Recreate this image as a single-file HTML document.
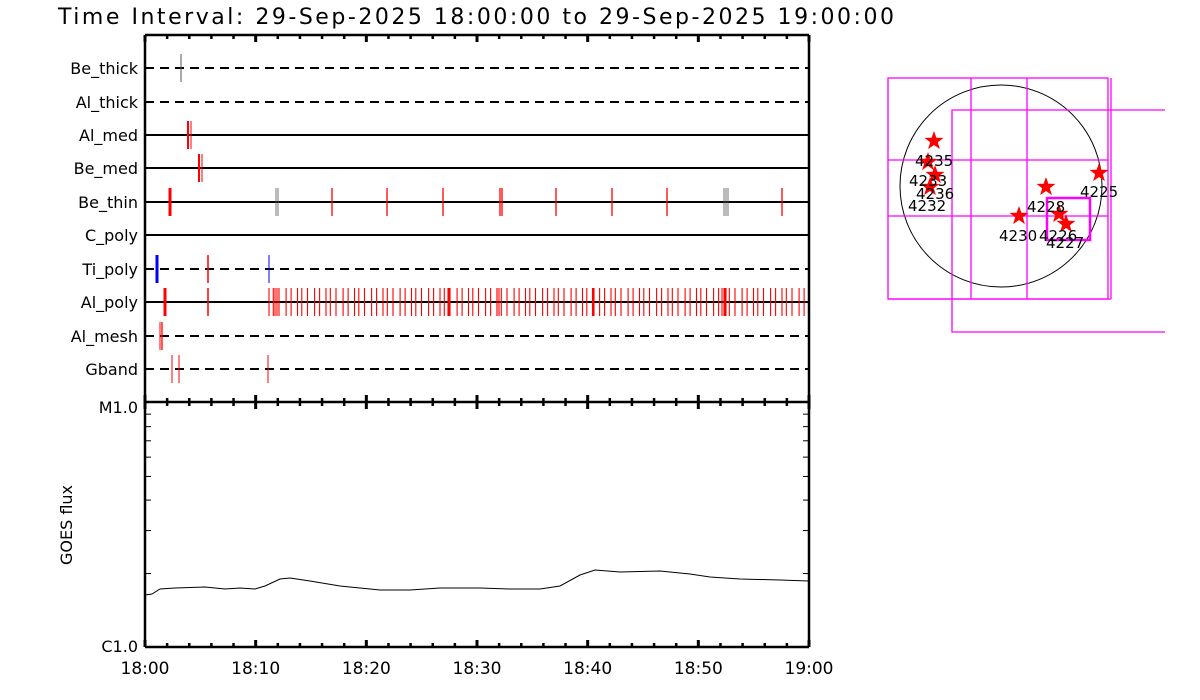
<!DOCTYPE html>
<html><head><meta charset="utf-8"><style>body{margin:0;background:#fff}svg{display:block}text{font-family:"DejaVu Sans","Liberation Sans",sans-serif;fill:#000}</style></head>
<body>
<svg id="s" width="1200" height="700" xmlns="http://www.w3.org/2000/svg">
<text x="58" y="24" font-size="22" textLength="836">Time Interval: 29-Sep-2025 18:00:00 to 29-Sep-2025 19:00:00</text>
<g id="g"></g>
<text transform="translate(72,525) rotate(-90)" font-size="16" text-anchor="middle">GOES flux</text>
<text x="138" y="413" font-size="16" text-anchor="end">M1.0</text>
<text x="138" y="652" font-size="16" text-anchor="end">C1.0</text>
<polyline fill="none" stroke="#000" stroke-width="1" points="145,595 152,594 160,589 175,588 205,587 225,589 240,588 255,589 265,586 280,579 290,578 310,581 340,586 380,590 410,590 440,588 480,588 510,589 540,589 560,586 580,575 595,570 620,572 660,571 690,574 710,577 740,579 780,580 809,581"/>
<g fill="none" stroke="#000">
<circle cx="1001" cy="186" r="101" stroke-width="1"/>
</g>
<g fill="none" stroke="#f0f" stroke-width="1.3">
<rect x="888" y="78" width="220" height="221"/>
<line x1="1111" y1="78" x2="1111" y2="299"/>
<line x1="888" y1="299" x2="1111" y2="299"/>
<line x1="971" y1="78" x2="971" y2="299"/>
<line x1="1027" y1="78" x2="1027" y2="299"/>
<line x1="888" y1="160" x2="1108" y2="160"/>
<line x1="888" y1="216" x2="1108" y2="216"/>
<polyline points="1165,110 952,110 952,332 1165,332"/>
<rect x="1047" y="198" width="43" height="42" stroke-width="2.5"/>
</g>
<g id="st" fill="#f00"></g>
<g font-size="15">
<text x="915" y="166">4235</text>
<text x="909" y="186">4233</text>
<text x="916" y="199">4236</text>
<text x="908" y="211">4232</text>
<text x="1080" y="197">4225</text>
<text x="1027" y="212">4228</text>
<text x="999" y="241">4230</text>
<text x="1039" y="241">4226</text>
<text x="1046" y="248">4227</text>
</g>
</svg>
<script>
var g=document.getElementById('g'),h='';
function L(x1,y1,x2,y2,c,w,d){h+='<line x1="'+x1+'" y1="'+y1+'" x2="'+x2+'" y2="'+y2+'" stroke="'+c+'" stroke-width="'+w+'"'+(d?' stroke-dasharray="'+d+'"':'')+'/>';}
var X0=145,X1=809,pm=(X1-X0)/60;
var rows=[['Be_thick',68,1],['Al_thick',102,1],['Al_med',135,0],['Be_med',168,0],['Be_thin',202,0],['C_poly',235,0],['Ti_poly',269,1],['Al_poly',302,0],['Al_mesh',336,1],['Gband',369,1]];
rows.forEach(function(r){L(X0,r[1],X1,r[1],'#000',2,r[2]?'9,6':'');h+='<text x="138" y="'+(r[1]+6)+'" font-size="16" text-anchor="end">'+r[0]+'</text>';});
function tk(y,x,c,w){L(x,y-14,x,y+14,c,w||1.3);}
var R='#f00',K='#555';
tk(68,181,K,1);
tk(135,188,R,2);tk(135,191,R,1);
tk(168,199,R,2);tk(168,202,R,1);
tk(202,170,R,3);[332,387,443,556,612,667,782].forEach(function(x){tk(202,x,R,1.3)});
tk(202,500,R,1.3);tk(202,502,R,1.3);tk(202,276,K,0.8);tk(202,278,K,0.8);tk(202,724,K,0.8);tk(202,726,K,0.8);tk(202,728,K,0.8);
tk(269,157,'#00f',3);tk(269,208,R,1.5);tk(269,269,'#00f',1);
tk(302,165,R,3);tk(302,208,R,1.5);
var x=269,i=0;while(x<808){tk(302,x.toFixed(1),R,1.1);x+=4.3+((i*37)%5)*0.7;i++;}
[275,277,448,449,593,594,722,724,726,497,499].forEach(function(x){tk(302,x,R,1.1)});
tk(336,160,R,1);tk(336,162,R,1.3);
tk(369,172,R,1);tk(369,179,R,1);tk(369,268,R,1);
L(X0,35,X1,35,'#000',2.5);L(X0,35,X0,647,'#000',2.5);L(X1,35,X1,647,'#000',2.5);L(X0,402,X1,402,'#000',2.5);L(X0,647,X1,647,'#000',2.5);
for(var m=0;m<=60;m+=2){var xx=X0+m*pm,big=m%10==0,l=big?7:4;
L(xx,35,xx,35+l,'#000',big?3:2.5);L(xx,402-l,xx,402+l,'#000',big?3:2.5);L(xx,647,xx,647-l,'#000',big?3:2.5);}
for(var k=2;k<10;k++){var yy=647-244*Math.log10(k);L(X0,yy,X0+6,yy,'#000',1);L(X1,yy,X1-6,yy,'#000',1);}
['18:00','18:10','18:20','18:30','18:40','18:50','19:00'].forEach(function(t,j){h+='<text x="'+(X0+j*10*pm)+'" y="674" font-size="17" text-anchor="middle">'+t+'</text>';});
g.innerHTML=h;
var st='';[[934,141],[928,162],[935,175],[930,187],[1099,173],[1046,187],[1019,216],[1059,214],[1066,224]].forEach(function(p){var pts=[];for(var q=0;q<10;q++){var a=-Math.PI/2+q*Math.PI/5,r=q%2?4:10;pts.push((p[0]+r*Math.cos(a)).toFixed(1)+','+(p[1]+r*Math.sin(a)).toFixed(1));}st+='<polygon points="'+pts.join(' ')+'"/>';});
document.getElementById('st').innerHTML=st;
</script>
</body></html>
